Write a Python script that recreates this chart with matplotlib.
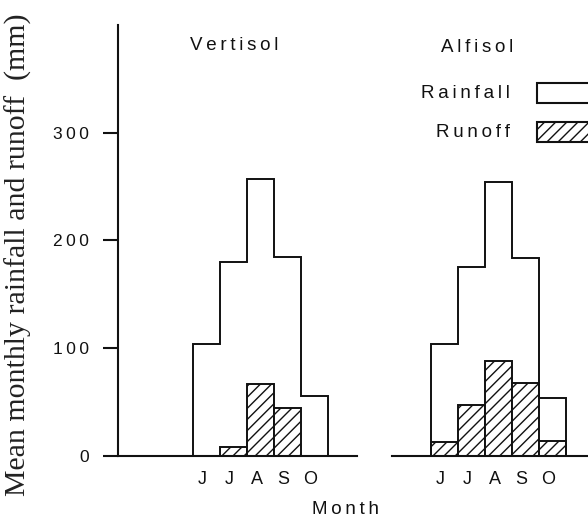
import matplotlib
matplotlib.use("Agg")
import matplotlib.pyplot as plt
from matplotlib.patches import Rectangle

# mean monthly rainfall / runoff (mm)
months = ["J", "J", "A", "S", "O"]
soils = ["Vertisol", "Alfisol"]
vert_rain = [104, 180, 257, 185, 56]
vert_runoff = [0, 8, 67, 45, 0]
alf_rain = [104, 175, 254, 184, 54]
alf_runoff = [13, 47, 88, 68, 14]
yticks = [0, 100, 200, 300]

SANS = ["Liberation Sans", "DejaVu Sans"]
INK = "#111111"


def spaced(s, sep="\u2009"):
    # fake letter spacing
    return sep.join(s)


plt.rcParams["hatch.linewidth"] = 1.0
plt.rcParams["hatch.color"] = INK

fig = plt.figure(figsize=(5.88, 5.25), dpi=100)
ax = fig.add_axes([118 / 588, 69 / 525, 470 / 588, 431 / 525])
ax.set_xlim(0, 17.4)
ax.set_ylim(0, 400)

starts = [2.78, 11.59]  # left edge of first month in each panel
panels = [(vert_rain, vert_runoff), (alf_rain, alf_runoff)]
tick_pos, tick_lab = [], []
for x0, (rain, runoff) in zip(starts, panels):
    edges = [x0 + i for i in range(len(rain) + 1)]
    centers = [x0 + i + 0.5 for i in range(len(rain))]
    ax.stairs(rain, edges, baseline=0, color=INK, lw=1.4, zorder=3)
    ax.bar(centers, runoff, width=1.0, facecolor="white", edgecolor=INK,
           hatch="///", lw=1.4, zorder=2)
    tick_pos += centers
    tick_lab += [spaced(m) for m in months]

# broken baseline under the two panels
ax.plot([0, 8.85], [0, 0], color=INK, lw=1.5, clip_on=False, zorder=4)
ax.plot([10.15, 17.4], [0, 0], color=INK, lw=1.5, clip_on=False, zorder=4)

for s in ["top", "right", "bottom"]:
    ax.spines[s].set_visible(False)
ax.spines["left"].set_color(INK)
ax.spines["left"].set_linewidth(1.5)

ax.set_yticks(yticks)
ax.set_yticklabels([spaced(str(v)) for v in yticks], family=SANS, fontsize=12.5)
ax.tick_params(axis="y", length=11, width=1.5, color=INK, pad=10, labelcolor=INK)
ax.set_xticks([p - 0.15 for p in tick_pos])
ax.set_xticklabels(tick_lab, family=SANS, fontsize=13)
ax.tick_params(axis="x", length=0, pad=11, labelcolor=INK)

# panel titles
ax.text(4.3, 381, spaced(soils[0]), family=SANS, fontsize=13.5, ha="center",
        va="center", color=INK)
ax.text(13.3, 379, spaced(soils[1]), family=SANS, fontsize=13.5, ha="center",
        va="center", color=INK)

# legend drawn by hand, boxes run off the right edge
ax.add_patch(Rectangle((0.891, 0.819), 0.15, 0.046, transform=ax.transAxes,
                       facecolor="white", edgecolor=INK, lw=1.5, clip_on=False))
ax.add_patch(Rectangle((0.891, 0.7285), 0.15, 0.046, transform=ax.transAxes,
                       facecolor="white", edgecolor=INK, lw=1.5, hatch="///",
                       clip_on=False))
ax.text(0.834, 0.842, spaced("Rainfall"), transform=ax.transAxes, family=SANS,
        fontsize=13.5, ha="right", va="center", color=INK)
ax.text(0.834, 0.750, spaced("Runoff"), transform=ax.transAxes, family=SANS,
        fontsize=13.5, ha="right", va="center", color=INK)

fig.text(346 / 588, 1 - 510 / 525, spaced("Month"), family=SANS, fontsize=13.5,
         ha="center", va="center", color=INK)
fig.text(18 / 588, 1 - 255 / 525, "Mean monthly rainfall and runoff  (mm)",
         family="Liberation Serif", fontsize=21.5, rotation=90, ha="center",
         va="center", color="#222222")

fig.savefig("out.png", dpi=100)
